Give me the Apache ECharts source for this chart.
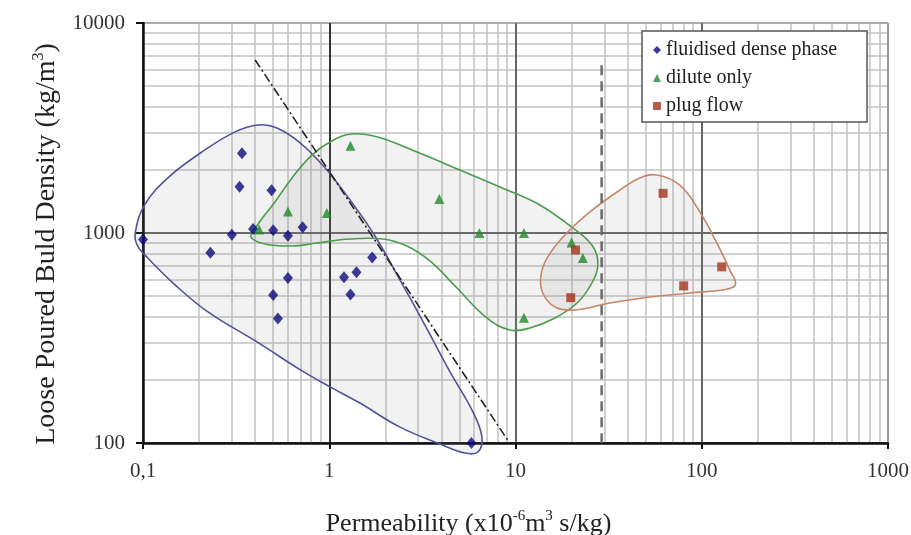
<!DOCTYPE html>
<html>
<head>
<meta charset="utf-8">
<script src="https://cdn.jsdelivr.net/npm/echarts@6/dist/echarts.min.js"></script>
<style>
  html, body { margin: 0; padding: 0; background: #fff; }
  #chart { width: 911px; height: 535px; }
</style>
</head>
<body>
<div id="chart"></div>
<script>
// Permeability (x10^-6 m^3 s/kg) against loose poured bulk density (kg/m^3)

// measured powders, [permeability, density]
const fluidisedDense = [
  [0.1, 930], [0.23, 805], [0.3, 980], [0.34, 2400], [0.33, 1660], [0.39, 1045],
  [0.49, 1600], [0.5, 1030], [0.6, 970], [0.72, 1065], [0.6, 610], [0.5, 507],
  [0.53, 392], [1.2, 615], [1.3, 510], [1.4, 650], [1.7, 765], [5.8, 100]
];
const diluteOnly = [
  [0.42, 1040], [0.6, 1265], [0.97, 1245], [1.3, 2600], [3.9, 1450],
  [6.4, 1000], [11.1, 1000], [11.1, 395], [20, 900], [23, 760]
];
const plugFlow = [
  [62, 1545], [21, 830], [19.8, 492], [80, 560], [128, 690]
];

// hand-drawn outlines around each mode of conveying
const fluidisedRegion = [
  [0.091, 1010], [0.102, 1360], [0.136, 1830], [0.207, 2430], [0.312, 3030],
  [0.415, 3270], [0.524, 3160], [0.70, 2680], [0.95, 2040], [1.29, 1440],
  [1.76, 968], [2.40, 597], [3.26, 365], [4.45, 218], [5.83, 144], [6.6, 107],
  [6.28, 90.6], [5.35, 89.6], [3.93, 98.9], [2.40, 119], [1.46, 155],
  [1.01, 185], [0.70, 223], [0.409, 303], [0.223, 421], [0.149, 565],
  [0.106, 760], [0.093, 877]
];
const diluteRegion = [
  [0.38, 957], [0.415, 1104], [0.511, 1405], [0.631, 1830], [0.807, 2350],
  [1.03, 2740], [1.32, 2960], [1.80, 2870], [2.96, 2430], [5.03, 1995],
  [8.25, 1656], [13.5, 1360], [20.3, 1057], [25.7, 877], [27.7, 720],
  [25.7, 578], [21.4, 464], [16.3, 394], [11.95, 353], [9.33, 345],
  [7.02, 394], [4.85, 547], [3.47, 736], [2.61, 867], [1.94, 936],
  [1.29, 936], [0.859, 896], [0.631, 867], [0.452, 886]
];
const plugRegion = [
  [57.4, 1890], [76.3, 1690], [97.7, 1260], [122, 877], [141.5, 666],
  [152, 572], [138, 541], [86.3, 518], [52.6, 496], [32.1, 464],
  [20.8, 430], [16.3, 444], [14.0, 518], [13.7, 631], [14.9, 769],
  [18.4, 978], [25.1, 1260], [36.3, 1600], [46.5, 1830]
];

// dense-phase boundary and the permeability limit
const boundaryLine = [[0.4, 6670], [9.3, 100]];
const limitLine = [[29, 6300], [29, 100]];

// axis labels
const xTickLabels = ['0,1', '1', '10', '100', '1000'];
const yTickLabels = ['100', '1000', '10000'];

const FONT = 'Liberation Serif';

// intermediate (2..9) grid lines of each decade
const minorX = [];
[0.1, 1, 10, 100].forEach(d => { for (let k = 2; k <= 9; k++) minorX.push(+(k * d).toPrecision(3)); });
const minorY = [];
[100, 1000].forEach(d => { for (let k = 2; k <= 9; k++) minorY.push(k * d); });

function regionSeries(name, pts, stroke) {
  return {
    type: 'custom',
    name: name,
    coordinateSystem: 'cartesian2d',
    silent: true,
    z: 2,
    data: pts,
    encode: { x: 0, y: 1 },
    renderItem: function (params, api) {
      if (params.dataIndex !== 0) return null;
      const points = pts.map(p => api.coord(p));
      return {
        type: 'polygon',
        shape: { points: points, smooth: 0.4 },
        style: { fill: 'rgba(140,140,140,0.11)', stroke: stroke, lineWidth: 1.6 }
      };
    }
  };
}

const chart = echarts.init(document.getElementById('chart'), null, { renderer: 'canvas' });

chart.setOption({
  animation: false,
  backgroundColor: '#fff',
  grid: { left: 143, right: 23, top: 23, bottom: 92, containLabel: false, outerBoundsMode: 'none' },
  legend: {
    left: 642,
    top: 31,
    orient: 'vertical',
    backgroundColor: '#fff',
    borderColor: '#555',
    borderWidth: 1.5,
    borderRadius: 0,
    padding: [9, 30, 6, 11],
    itemGap: 8,
    itemWidth: 8,
    itemHeight: 8,
    textStyle: { fontFamily: FONT, fontSize: 20, color: '#222' },
    data: [
      { name: 'fluidised dense phase', icon: 'diamond' },
      { name: 'dilute only', icon: 'triangle' },
      { name: 'plug flow', icon: 'rect' }
    ],
    z: 10
  },
  xAxis: {
    type: 'log',
    logBase: 10,
    min: 0.1,
    max: 1000,
    z: 1,
    axisLine: { onZero: false, lineStyle: { color: '#111', width: 2.5 } },
    axisTick: { show: true, length: 6, lineStyle: { color: '#111', width: 2 } },
    axisLabel: {
      margin: 18,
      fontFamily: FONT,
      fontSize: 21,
      color: '#333',
      formatter: (v, i) => xTickLabels[i]
    },
    splitLine: { show: true, lineStyle: { color: ['#555', '#333', '#666', '#666', '#999'], width: 2 } },
    name: '{a|Permeability (x10}{s|-6}{a|m}{s|3}{a| s/kg)}',
    nameLocation: 'middle',
    nameGap: 66,
    nameTextStyle: {
      padding: [0, 94, 0, 0],
      rich: {
        a: { fontFamily: FONT, fontSize: 26, color: '#222', lineHeight: 30 },
        s: { fontFamily: FONT, fontSize: 15, color: '#222', verticalAlign: 'top', lineHeight: 16 }
      }
    }
  },
  yAxis: {
    type: 'log',
    logBase: 10,
    min: 100,
    max: 10000,
    z: 1,
    axisLine: { onZero: false, lineStyle: { color: '#111', width: 2.5 } },
    axisTick: { show: true, length: 7, lineStyle: { color: '#111', width: 2 } },
    axisLabel: {
      margin: 18,
      fontFamily: FONT,
      fontSize: 21,
      color: '#333',
      formatter: (v, i) => yTickLabels[i]
    },
    splitLine: { show: true, lineStyle: { color: ['#555', '#666', '#aaa'], width: 2 } },
    name: '{a|Loose Poured Buld Density (kg/m}{s|3}{a|)}',
    nameLocation: 'middle',
    nameGap: 80,
    nameTextStyle: {
      padding: [0, 22, 0, 0],
      rich: {
        a: { fontFamily: FONT, fontSize: 28, color: '#222', lineHeight: 32 },
        s: { fontFamily: FONT, fontSize: 16, color: '#222', verticalAlign: 'top', lineHeight: 17 }
      }
    }
  },
  series: [
    {
      // 2..9 grid lines within each decade
      type: 'line',
      name: 'grid',
      data: [],
      silent: true,
      z: 0,
      markLine: {
        silent: true,
        z: 0,
        symbol: 'none',
        label: { show: false },
        lineStyle: { color: '#c2c2c2', width: 1.5, type: 'solid' },
        data: minorX.map(v => ({ xAxis: v })).concat(minorY.map(v => ({ yAxis: v })))
      }
    },
    regionSeries('fluidised region', fluidisedRegion, '#52529a'),
    regionSeries('dilute region', diluteRegion, '#4c9c4c'),
    regionSeries('plug region', plugRegion, '#c68868'),
    {
      type: 'line',
      name: 'boundary',
      data: boundaryLine,
      symbol: 'none',
      silent: true,
      z: 3,
      lineStyle: { color: '#222', width: 1.6, type: [9, 3, 2, 3] }
    },
    {
      type: 'line',
      name: 'limit',
      data: limitLine,
      symbol: 'none',
      silent: true,
      z: 3,
      lineStyle: { color: '#6a6a6a', width: 2.5, type: [10, 6] }
    },
    {
      type: 'scatter',
      name: 'fluidised dense phase',
      data: fluidisedDense,
      symbol: 'diamond',
      symbolSize: [10, 12],
      itemStyle: { color: '#0b0b7e' },
      z: 4
    },
    {
      type: 'scatter',
      name: 'dilute only',
      data: diluteOnly,
      symbol: 'triangle',
      symbolSize: [10, 10],
      itemStyle: { color: '#1f8a2a' },
      z: 4
    },
    {
      type: 'scatter',
      name: 'plug flow',
      data: plugFlow,
      symbol: 'rect',
      symbolSize: [9, 9],
      itemStyle: { color: '#a8321c' },
      z: 4
    }
  ]
});
</script>
</body>
</html>
